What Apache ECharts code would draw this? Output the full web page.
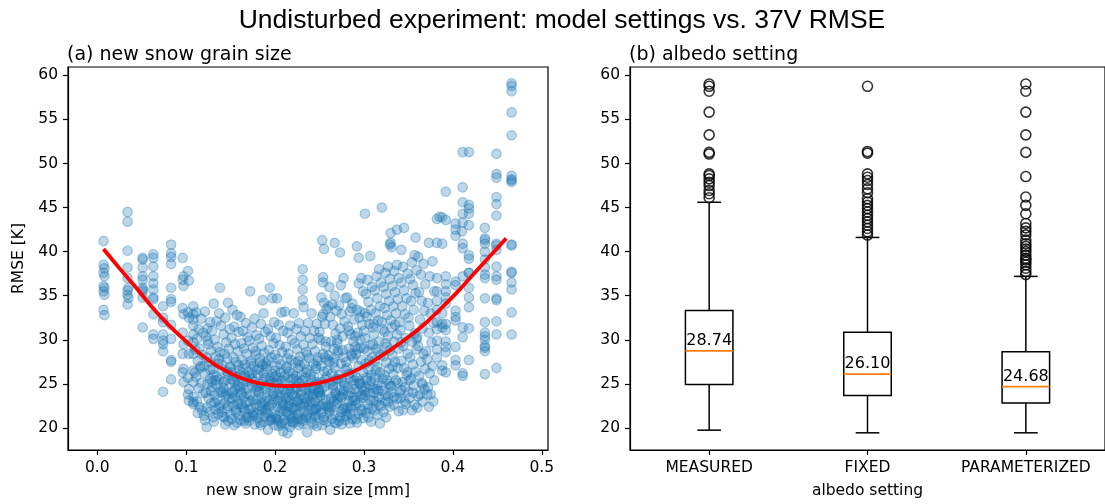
<!DOCTYPE html>
<html><head><meta charset="utf-8">
<script src="https://cdn.jsdelivr.net/npm/echarts@6/dist/echarts.min.js"></script>
<style>html,body{margin:0;padding:0;background:#fff}#c{width:1105px;height:504px}</style>
</head><body><div id="c"></div>
<script>
const xTicks=[0,0.1,0.2,0.3,0.4,0.5];
const yTicks=[20,25,30,35,40,45,50,55,60];
const categories=['MEASURED','FIXED','PARAMETERIZED'];
// [min whisker, Q1, median, Q3, max whisker]
const boxStats=[[19.74,24.92,28.74,33.32,45.6],[19.44,23.68,26.10,30.84,41.61],[19.44,22.81,24.68,28.63,37.19]];
const medianLabels=['28.74','26.10','24.68'];
const outMeasured=[59.02,58.76,58.2,55.83,53.25,51.26,51.07,48.82,48.63,48.26,47.88,47.5,46.94,46.57,46.12];
const outFixed=[58.76,51.37,51.18,48.82,48.44,48.07,47.62,47.13,46.68,46.0,45.63,45.25,44.88,44.5,44.12,43.75,43.38,43.0,42.63,42.25,41.88];
const outParam=[59.02,58.2,55.83,53.25,51.26,48.52,46.2,45.25,44.3,43.2,42.7,42.3,41.9,41.3,40.9,40.6,40.3,40.0,39.6,39.25,39.06,38.8,38.5,38.12,37.75,37.4];
const fitCurve=[[0.007,40.3],[0.025,38.1],[0.042,36.1],[0.06,33.9],[0.079,31.8],[0.1,29.8],[0.117,28.3],[0.135,27.0],[0.158,25.8],[0.18,25.1],[0.2,24.8],[0.215,24.75],[0.23,24.8],[0.25,25.1],[0.279,26.0],[0.3,27.0],[0.317,28.0],[0.339,29.5],[0.365,31.5],[0.385,33.4],[0.403,35.2],[0.42,37.1],[0.44,39.3],[0.46,41.5]];
const ptsLowX=[[0.007,41.2],[0.007,38.5],[0.008,38.1],[0.007,37.6],[0.008,37.2],[0.007,36.1],[0.008,35.9],[0.007,35.5],[0.008,35.1],[0.007,33.4],[0.008,32.8],
[0.034,44.5],[0.034,43.4],[0.034,40.1],[0.034,38.2],[0.034,37.0],[0.035,35.9],[0.034,35.6],[0.034,35.1],[0.035,34.75],[0.034,34.0],
[0.051,39.3],[0.051,39.1],[0.051,38.2],[0.051,37.2],[0.051,36.8],[0.051,35.9],[0.051,35.7],[0.051,35.5],[0.051,34.8],[0.051,31.4],
[0.063,39.7],[0.063,39.3],[0.063,38.3],[0.063,37.2],[0.063,36.4],[0.063,35.7],[0.063,34.8],[0.063,34.6],[0.063,32.9],[0.063,30.6],[0.063,30.1],
[0.074,33.8],[0.074,32.5],[0.074,32.0],[0.074,30.6],[0.074,29.9],[0.074,29.5],[0.074,28.7],[0.074,24.1],
[0.083,40.8],[0.083,39.8],[0.083,39.4],[0.083,38.6],[0.083,35.9],[0.083,34.6],[0.083,34.3],[0.083,31.7],[0.083,30.1],[0.083,27.7],[0.083,27.5],[0.083,25.5],
[0.096,39.3],[0.097,37.2],[0.096,36.8],[0.097,36.1],[0.096,33.6],[0.097,32.9],[0.096,30.8],[0.097,29.5],[0.096,28.4],[0.097,26.7],[0.096,26.3],[0.097,25.2],
[0.102,37.8],[0.103,36.7],[0.102,33.1],[0.103,32.5],[0.102,29.9],[0.103,28.4],[0.102,25.7],[0.103,24.4],[0.102,23.8],[0.103,23.1],
[0.108,33.8],[0.108,32.9],[0.108,32.3],[0.108,31.6],[0.108,30.6],[0.108,29.7],[0.108,28.4],[0.108,26.5],[0.108,25.2],[0.108,23.5],[0.108,22.9],[0.108,22.7]];
const ptsCoreA=[[.111,33.1],[.117,32.4],[.114,31.2],[.119,30.8],[.112,30.1],[.115,29.0],[.118,28.3],[.113,27.6],[.116,27.0],[.110,26.3],[.111,25.8],[.117,25.1],[.114,24.5],[.119,23.9],[.112,23.0],[.115,22.4],[.118,22.0],[.113,21.7],[.116,26.8],[.110,28.9],
[.121,33.2],[.127,32.0],[.124,31.3],[.129,31.0],[.122,30.4],[.125,29.5],[.128,28.8],[.123,28.0],[.126,27.5],[.120,27.0],[.121,26.2],[.127,25.6],[.124,25.0],[.129,24.6],[.122,24.0],[.125,23.4],[.128,22.8],[.123,22.3],[.126,21.8],[.120,21.4],[.121,20.9],[.123,20.1],[.127,26.6],[.124,29.9],[.129,25.3],
[.131,34.1],[.137,33.0],[.134,32.1],[.139,31.6],[.132,30.0],[.135,29.2],[.138,28.6],[.133,28.1],[.136,27.3],[.130,26.7],[.131,26.0],[.137,25.5],[.134,24.9],[.139,24.3],[.132,23.7],[.135,23.2],[.138,22.6],[.133,22.1],[.136,21.6],[.130,21.2],[.131,20.7],[.137,27.8],[.134,25.8],[.139,24.0],[.132,22.9],
[.138,35.9],[.147,34.2],[.144,32.5],[.149,31.2],[.142,30.6],[.145,29.7],[.148,29.0],[.143,28.4],[.146,27.9],[.140,27.2],[.141,26.6],[.147,26.1],[.144,25.4],[.149,25.0],[.142,24.5],[.145,23.9],[.148,23.3],[.143,22.8],[.146,22.2],[.140,21.8],[.141,21.3],[.147,20.8],[.144,20.4],[.149,26.9],[.142,25.2],[.145,23.6],
[.152,33.4],[.157,32.8],[.154,31.5],[.159,30.9],[.151,30.2],[.155,29.5],[.158,28.7],[.153,28.0],[.156,27.5],[.150,26.9],[.151,26.3],[.157,25.8],[.154,25.2],[.159,24.7],[.152,24.1],[.155,23.6],[.158,23.0],[.153,22.5],[.156,22.0],[.150,21.5],[.151,21.0],[.157,20.6],[.154,20.3],[.159,27.1],[.152,25.5],[.155,24.4],[.158,22.7],
[.161,32.6],[.167,31.9],[.164,31.0],[.169,30.3],[.162,29.6],[.165,29.0],[.168,28.4],[.163,27.7],[.166,27.2],[.160,26.5],[.161,26.0],[.167,25.6],[.164,25.0],[.169,24.5],[.162,24.0],[.165,23.5],[.168,22.9],[.163,22.4],[.166,21.9],[.160,21.4],[.161,20.9],[.167,20.5],[.164,26.7],[.169,25.3],[.162,23.8],[.165,22.2],[.168,21.2],
[.172,35.5],[.177,32.4],[.174,31.4],[.179,30.5],[.171,29.9],[.175,29.1],[.178,28.3],[.173,27.6],[.176,27.0],[.170,26.4],[.171,25.9],[.177,25.3],[.174,24.8],[.179,24.3],[.172,23.7],[.175,23.2],[.178,22.7],[.173,22.2],[.176,21.7],[.170,21.2],[.171,20.8],[.177,20.4],[.174,26.2],[.179,24.6],[.172,23.0],[.175,21.5],[.178,28.7],
[.186,34.5],[.187,33.0],[.184,31.8],[.189,30.9],[.182,30.1],[.185,29.3],[.188,28.5],[.183,27.9],[.186,27.2],[.180,26.6],[.181,26.0],[.187,25.5],[.184,25.0],[.189,24.5],[.182,24.0],[.185,23.5],[.188,23.0],[.183,22.5],[.186,22.0],[.180,21.6],[.181,21.1],[.187,20.7],[.184,20.3],[.189,25.7],[.182,24.2],[.185,22.8],[.188,21.3],[.183,27.4],
[.194,35.9],[.197,34.7],[.199,32.0],[.192,31.2],[.195,30.4],[.198,29.6],[.193,28.8],[.196,28.0],[.190,27.3],[.191,26.7],[.197,26.1],[.194,25.6],[.199,25.1],[.192,24.6],[.195,24.1],[.198,23.6],[.193,23.1],[.196,22.6],[.190,22.1],[.191,21.7],[.197,21.2],[.194,20.8],[.199,20.3],[.192,19.8],[.195,25.3],[.198,23.9],[.193,22.4],[.196,21.0],[.190,27.0]];
const ptsCoreB=[[.202,34.7],[.207,33.1],[.204,31.7],[.209,31.0],[.201,30.2],[.205,29.4],[.208,28.6],[.203,27.8],[.206,27.2],[.200,26.5],[.201,25.9],[.207,25.4],[.204,24.9],[.209,24.4],[.202,23.9],[.205,23.4],[.208,22.9],[.203,22.4],[.206,21.9],[.200,21.5],[.201,21.0],[.207,20.6],[.204,20.2],[.209,19.6],[.202,25.1],[.205,23.7],[.208,22.2],[.203,20.9],[.206,26.3],[.200,28.3],
[.211,33.2],[.217,31.6],[.214,30.8],[.219,30.0],[.212,29.2],[.215,28.4],[.218,27.7],[.213,27.0],[.216,26.4],[.210,25.8],[.211,25.3],[.217,24.8],[.214,24.3],[.219,23.8],[.212,23.3],[.215,22.8],[.218,22.3],[.213,21.8],[.216,21.4],[.210,20.9],[.211,20.5],[.217,20.1],[.214,19.4],[.219,25.5],[.212,24.0],[.215,22.5],[.218,21.1],[.213,26.8],[.216,23.1],[.210,22.0],
[.221,33.0],[.227,31.9],[.224,31.2],[.229,30.4],[.222,29.6],[.225,28.9],[.228,28.1],[.223,27.4],[.226,26.8],[.220,26.2],[.221,25.6],[.227,25.1],[.224,24.6],[.229,24.1],[.222,23.6],[.225,23.1],[.228,22.6],[.223,22.1],[.226,21.6],[.220,21.2],[.221,20.7],[.227,20.3],[.224,25.3],[.229,23.8],[.222,22.4],[.225,21.0],[.228,27.1],[.223,24.4],[.226,22.9],[.220,20.5],
[.231,38.0],[.231,36.8],[.231,35.7],[.231,34.5],[.232,33.7],[.237,31.9],[.234,31.0],[.239,30.2],[.232,29.4],[.235,28.6],[.238,27.9],[.233,27.2],[.236,26.6],[.230,26.0],[.231,25.4],[.237,24.9],[.234,24.4],[.239,23.9],[.232,23.4],[.235,22.9],[.238,22.4],[.233,21.9],[.236,21.4],[.230,21.0],[.231,20.5],[.236,19.5],[.234,25.7],[.239,24.2],[.232,22.7],[.235,21.2],[.238,23.6],
[.241,33.0],[.247,31.8],[.244,31.0],[.249,30.2],[.242,29.5],[.245,28.7],[.248,28.0],[.243,27.3],[.246,26.7],[.240,26.1],[.241,25.5],[.247,25.0],[.244,24.5],[.249,24.0],[.242,23.5],[.245,23.0],[.248,22.5],[.243,22.0],[.246,21.5],[.240,21.1],[.241,20.6],[.247,20.2],[.244,25.8],[.249,24.3],[.242,22.8],[.245,21.3],[.248,27.6],[.243,23.8],[.246,22.2],
[.253,41.3],[.255,40.3],[.254,37.1],[.254,36.5],[.252,34.8],[.255,34.2],[.258,33.5],[.253,32.6],[.256,31.8],[.250,30.9],[.251,30.0],[.257,29.2],[.254,28.4],[.259,27.7],[.252,27.0],[.255,26.4],[.258,25.8],[.253,25.2],[.256,24.7],[.250,24.2],[.251,23.7],[.257,23.2],[.254,22.7],[.259,22.2],[.252,21.7],[.255,21.2],[.258,20.7],[.253,20.3],[.256,25.5],[.250,24.0],[.251,22.5],[.257,29.8],[.254,32.9],
[.261,36.0],[.267,35.0],[.264,34.0],[.269,33.3],[.262,32.6],[.265,31.7],[.268,30.7],[.263,29.8],[.266,29.0],[.260,28.2],[.261,27.5],[.267,26.8],[.264,26.2],[.269,25.6],[.262,25.0],[.265,24.5],[.268,24.0],[.263,23.5],[.266,23.0],[.260,22.5],[.261,22.0],[.267,21.5],[.264,21.0],[.269,20.5],[.262,19.8],[.265,25.3],[.268,23.8],[.263,22.3],[.266,27.9],[.260,33.8],
[.267,41.0],[.273,39.9],[.277,37.0],[.274,36.2],[.279,34.7],[.272,33.9],[.275,32.9],[.278,32.1],[.273,31.3],[.276,30.4],[.270,29.6],[.271,28.8],[.277,28.0],[.274,27.3],[.279,26.6],[.272,26.0],[.275,25.4],[.278,24.8],[.273,24.3],[.276,23.8],[.270,23.3],[.271,22.8],[.277,22.3],[.274,21.8],[.279,21.3],[.272,20.8],[.275,20.4],[.278,25.1],[.273,23.6],[.276,22.1],[.270,30.0],[.271,28.5],
[.281,34.8],[.287,34.1],[.284,33.2],[.289,32.3],[.282,31.5],[.285,30.6],[.288,29.8],[.283,29.0],[.286,28.2],[.280,27.5],[.281,26.8],[.287,26.2],[.284,25.6],[.289,25.0],[.282,24.5],[.285,24.0],[.288,23.5],[.283,23.0],[.286,22.5],[.280,22.0],[.281,21.5],[.287,21.0],[.284,20.5],[.289,25.4],[.282,23.7],[.285,22.2],[.288,27.9],[.283,31.0],[.286,33.6],
[.292,40.6],[.294,39.3],[.297,37.0],[.294,36.4],[.299,35.5],[.292,33.4],[.295,32.5],[.298,31.7],[.293,30.8],[.296,30.0],[.290,29.2],[.291,28.4],[.297,27.7],[.294,27.0],[.299,26.3],[.292,25.7],[.295,25.1],[.298,24.6],[.293,24.1],[.296,23.6],[.290,23.1],[.291,22.6],[.297,22.1],[.294,21.6],[.299,21.1],[.292,20.6],[.295,25.3],[.298,23.8],[.293,28.9],[.296,33.2],[.290,30.4]];
const ptsCoreC=[[.301,44.3],[.307,39.5],[.304,36.8],[.309,36.0],[.302,35.2],[.305,34.3],[.308,33.4],[.303,32.6],[.306,31.8],[.300,31.0],[.301,30.2],[.307,29.4],[.304,28.7],[.309,28.0],[.302,27.3],[.305,26.6],[.308,26.0],[.303,25.4],[.306,24.8],[.300,24.2],[.301,23.7],[.307,23.2],[.304,22.7],[.309,22.2],[.302,21.7],[.305,21.2],[.308,20.7],[.303,25.7],[.306,24.0],[.300,29.0],[.301,33.0],
[.320,45.0],[.317,38.0],[.314,37.2],[.319,36.5],[.312,35.6],[.315,34.7],[.318,33.8],[.313,33.0],[.316,32.2],[.310,31.4],[.311,30.6],[.317,29.8],[.314,29.0],[.319,28.3],[.312,27.6],[.315,26.9],[.318,26.3],[.313,25.7],[.316,25.1],[.310,24.5],[.311,24.0],[.317,23.5],[.314,23.0],[.319,22.5],[.312,22.0],[.315,21.5],[.318,20.5],[.313,26.5],[.316,24.2],[.310,29.5],[.311,31.8],
[.330,42.1],[.330,41.0],[.329,40.8],[.327,38.3],[.324,37.6],[.329,36.9],[.322,36.0],[.325,35.2],[.328,34.4],[.323,33.6],[.326,32.8],[.320,32.0],[.321,31.2],[.327,30.4],[.324,29.6],[.329,28.8],[.322,28.1],[.325,27.4],[.328,26.7],[.323,26.0],[.326,25.4],[.320,24.8],[.321,24.2],[.327,23.6],[.324,23.0],[.329,22.4],[.322,21.8],[.325,21.2],[.328,25.0],[.323,30.9],
[.337,42.5],[.331,40.5],[.337,38.5],[.334,37.8],[.339,37.0],[.332,36.1],[.335,35.4],[.338,34.6],[.333,33.8],[.336,33.0],[.330,32.2],[.331,31.4],[.337,30.6],[.334,29.8],[.339,29.0],[.332,28.2],[.335,27.5],[.338,26.8],[.333,26.1],[.336,25.4],[.330,24.7],[.331,24.0],[.337,23.3],[.334,22.6],[.339,21.9],[.332,27.0],[.335,31.7],
[.345,42.7],[.342,40.2],[.344,38.3],[.349,37.5],[.342,36.5],[.345,35.6],[.348,34.7],[.343,33.8],[.346,32.9],[.340,32.0],[.341,31.1],[.347,30.2],[.344,29.3],[.349,28.4],[.342,27.6],[.345,26.8],[.348,26.0],[.343,25.2],[.346,24.6],[.340,24.0],[.341,23.4],[.347,22.7],[.344,22.0],[.349,26.3],[.342,29.7],
[.358,41.6],[.357,39.6],[.354,38.8],[.359,37.9],[.352,36.9],[.355,36.2],[.358,35.3],[.353,34.4],[.356,33.4],[.350,32.5],[.351,31.6],[.357,30.7],[.354,29.8],[.359,28.9],[.352,28.0],[.355,27.2],[.358,26.4],[.353,25.6],[.356,24.8],[.350,24.1],[.351,23.4],[.357,22.6],[.354,22.0],[.359,30.1],
[.361,39.4],[.367,38.6],[.364,37.4],[.369,36.3],[.362,35.4],[.365,34.4],[.368,33.3],[.363,32.3],[.366,31.3],[.360,30.3],[.361,29.3],[.367,28.4],[.364,27.5],[.369,26.7],[.362,25.9],[.365,25.1],[.368,24.4],[.363,23.8],[.366,23.0],[.360,22.3],
[.373,41.0],[.377,38.9],[.374,37.2],[.379,35.5],[.372,34.2],[.375,33.0],[.378,31.9],[.373,30.8],[.376,29.7],[.370,28.7],[.371,27.8],[.377,27.0],[.374,26.2],[.379,25.4],[.372,24.6],[.375,23.8],[.378,23.0],[.373,22.4]];
const ptsCoreExtra=[[.143,21.2],[.147,22.5],[.152,23.3],[.156,21.8],[.158,24.8],[.162,22.7],[.165,20.8],[.168,23.9],[.171,22.1],[.174,25.6],[.176,21.4],[.179,23.2],[.181,24.7],[.183,20.6],[.185,22.3],[.187,26.2],[.189,21.9],[.191,23.4],[.193,24.9],[.195,20.9],[.197,22.8],[.199,25.8],[.201,21.3],[.203,23.1],[.205,24.5],[.207,20.4],[.209,22.6],[.211,26.0],[.213,21.6],[.215,23.5],[.217,24.1],[.219,20.7],[.221,22.2],[.223,25.9],[.225,21.5],[.227,23.3],[.229,24.7],[.231,20.8],[.233,22.5],[.235,26.3],[.237,21.7],[.239,23.0],[.241,24.6],[.243,20.4],[.245,22.1],[.247,25.2],[.249,21.4],[.251,23.6],[.253,24.3],[.255,20.9],[.257,22.4],[.259,26.5],[.261,21.8],[.263,23.3],[.265,24.8],[.267,20.6],[.269,22.7],[.271,25.5],[.273,21.2],[.275,23.5],[.277,24.2],[.279,20.9],[.281,22.3],[.283,26.1],[.285,21.6],[.287,23.1],[.289,24.4],[.291,21.0],[.293,22.8],[.295,25.0],[.297,21.9],[.299,23.4],[.302,24.6],[.305,22.2],[.308,25.3],[.311,23.1],[.314,24.4],[.317,22.6],[.321,25.6],[.324,23.7],[.327,22.9],[.331,24.8],[.334,23.5],[.338,25.1],[.342,24.3],[.346,23.0],[.351,25.4],[.355,24.0],[.361,23.6],[.366,24.9],[.371,23.8],
[.128,24.2],[.133,25.4],[.137,22.3],[.141,24.1],[.146,26.4],[.151,23.9],[.155,25.9],[.161,24.6],[.166,26.0],[.173,27.3],[.182,26.7],[.192,27.6],[.202,27.0],[.214,27.9],[.226,27.6],[.236,28.3],[.246,27.0],[.256,28.0],[.266,27.4],[.276,28.8],[.286,28.4],[.296,29.1],[.306,27.6],[.316,28.6],[.326,29.2]];
const ptsHighX=[[.382,43.7],[.385,43.95],[.382,41.0],[.382,37.0],[.382,35.5],[.382,34.4],[.382,33.4],[.382,32.0],[.382,31.2],[.382,29.9],[.382,28.9],[.382,28.0],
[.388,43.9],[.388,40.9],[.388,33.0],[.388,31.8],[.388,31.4],[.388,27.1],[.388,26.5],
[.392,46.8],[.392,43.6],[.392,37.2],[.392,36.3],[.392,35.5],[.392,34.8],[.392,34.1],[.392,31.8],[.392,31.1],[.392,29.8],[.392,29.2],[.392,28.6],[.392,26.3],
[.403,43.2],[.403,42.5],[.403,41.8],[.403,36.6],[.403,36.2],[.403,33.3],[.403,32.6],[.403,32.2],[.403,29.2],[.403,27.7],[.403,27.1],
[.411,51.3],[.411,47.3],[.411,45.6],[.411,44.3],[.411,43.3],[.410,42.3],[.411,40.9],[.411,40.4],[.411,37.2],[.411,31.4],[.411,30.3],[.411,26.2],[.411,25.9],
[.418,51.3],[.418,45.3],[.418,44.9],[.418,44.3],[.418,43.0],[.418,39.6],[.418,39.2],[.418,37.6],[.418,37.6],[.418,35.9],[.418,34.8],[.418,33.7],[.418,31.3],[.418,27.7],
[.436,42.7],[.436,41.5],[.436,41.3],[.436,40.9],[.436,40.0],[.436,39.1],[.436,38.2],[.436,37.4],[.436,37.0],[.436,34.7],[.436,32.0],[.436,30.8],[.436,30.4],[.436,30.0],[.436,29.3],[.436,29.1],[.436,28.7],[.436,26.1],
[.449,51.1],[.449,48.8],[.449,48.4],[.449,46.2],[.449,45.4],[.449,44.1],[.449,40.9],[.449,40.7],[.449,40.2],[.449,38.3],[.449,37.2],[.449,36.8],[.449,34.7],[.449,34.5],[.449,32.1],[.449,30.6],[.449,26.8],
[.466,59.1],[.466,58.8],[.466,58.2],[.466,55.8],[.466,53.2],[.466,48.6],[.466,48.2],[.466,48.1],[.466,47.9],[.466,40.8],[.466,40.7],[.466,37.7],[.466,37.6],[.466,36.5],[.466,35.7],[.466,33.1],[.466,30.6]];

const FONT='"DejaVu Sans"';
const FS=15.5;
const txt={color:'#000',fontFamily:FONT,fontSize:FS};
const chart=echarts.init(document.getElementById('c'),null,{renderer:'canvas'});

function renderBox(params,api){
  const i=api.value(0);
  const mn=api.coord([i,api.value(1)]),q1=api.coord([i,api.value(2)]),md=api.coord([i,api.value(3)]),q3=api.coord([i,api.value(4)]),mx=api.coord([i,api.value(5)]);
  const band=api.size([1,0])[0];
  const bw=band*0.3,cw=bw*0.5,cx=mn[0];
  const ls={stroke:'#000',lineWidth:1.5,fill:null};
  return {type:'group',children:[
    {type:'line',shape:{x1:cx,y1:q3[1],x2:cx,y2:mx[1]},style:ls},
    {type:'line',shape:{x1:cx,y1:q1[1],x2:cx,y2:mn[1]},style:ls},
    {type:'line',shape:{x1:cx-cw/2,y1:mx[1],x2:cx+cw/2,y2:mx[1]},style:ls},
    {type:'line',shape:{x1:cx-cw/2,y1:mn[1],x2:cx+cw/2,y2:mn[1]},style:ls},
    {type:'rect',shape:{x:cx-bw/2,y:q3[1],width:bw,height:q1[1]-q3[1]},style:{stroke:'#000',fill:null,lineWidth:1.5}},
    {type:'line',shape:{x1:cx-bw/2,y1:md[1],x2:cx+bw/2,y2:md[1]},style:{stroke:'#ff7f0e',lineWidth:1.8}},
    {type:'text',x:cx,y:md[1]-2,style:{text:medianLabels[params.dataIndex],fill:'#000',font:'16px '+FONT,align:'center',verticalAlign:'bottom'}}
  ]};
}

const scatterStyle={color:'rgba(31,119,180,0.37)',borderColor:'rgba(31,119,180,0.45)',borderWidth:1.2};
function scat(d){return {type:'scatter',xAxisIndex:0,yAxisIndex:0,data:d,symbolSize:9.5,itemStyle:scatterStyle,z:2,silent:true};}
function outl(idx,arr){return {type:'scatter',xAxisIndex:1,yAxisIndex:1,data:arr.map(v=>[idx,v]),symbolSize:10,itemStyle:{color:'rgba(0,0,0,0)',borderColor:'#000',borderWidth:1.6},z:3,silent:true};}

const axisCommon={axisLine:{show:true,onZero:false,lineStyle:{color:'#000',width:1.2}},splitLine:{show:false},nameTextStyle:txt};

chart.setOption({
  animation:false,
  backgroundColor:'#fff',
  graphic:[
    {type:'text',x:562,y:21,style:{text:'Undisturbed experiment: model settings vs. 37V RMSE',font:'26.5px "Liberation Sans"',fill:'#000',align:'center',verticalAlign:'middle'}},
    {type:'text',x:67,y:55,style:{text:'(a) new snow grain size',font:'19px '+FONT,fill:'#000',align:'left',verticalAlign:'middle'}},
    {type:'text',x:629,y:55,style:{text:'(b) albedo setting',font:'19px '+FONT,fill:'#000',align:'left',verticalAlign:'middle'}}
  ],
  grid:[
    {left:68,top:67,width:480,height:386,show:true,borderColor:'#000',borderWidth:1.2,backgroundColor:'transparent'},
    {left:630,top:67,width:483,height:387,show:true,borderColor:'#000',borderWidth:1.2,backgroundColor:'transparent'}
  ],
  xAxis:[
    Object.assign({},axisCommon,{type:'value',gridIndex:0,min:-0.033,max:0.507,
      axisTick:{show:true,length:5,lineStyle:{color:'#000',width:1.2},customValues:xTicks},
      axisLabel:Object.assign({margin:10,customValues:xTicks,formatter:v=>v.toFixed(1)},txt),
      name:'new snow grain size [mm]',nameLocation:'middle',nameGap:33}),
    Object.assign({},axisCommon,{type:'category',gridIndex:1,data:categories,boundaryGap:true,
      axisTick:{show:true,length:5,alignWithLabel:true,interval:0,lineStyle:{color:'#000',width:1.2}},
      axisLabel:Object.assign({margin:10,interval:0,hideOverlap:false},txt),
      name:'albedo setting',nameLocation:'middle',nameGap:33})
  ],
  yAxis:[
    Object.assign({},axisCommon,{type:'value',gridIndex:0,min:17.49,max:60.95,
      axisTick:{show:true,length:5,lineStyle:{color:'#000',width:1.2},customValues:yTicks},
      axisLabel:Object.assign({margin:10,customValues:yTicks},txt),
      name:'RMSE [K]',nameLocation:'middle',nameGap:41}),
    Object.assign({},axisCommon,{type:'value',gridIndex:1,min:17.49,max:60.95,
      axisTick:{show:true,length:5,lineStyle:{color:'#000',width:1.2},customValues:yTicks},
      axisLabel:Object.assign({margin:10,customValues:yTicks},txt)})
  ],
  series:[
    scat(ptsLowX),scat(ptsCoreA),scat(ptsCoreB),scat(ptsCoreC),scat(ptsCoreExtra),scat(ptsHighX),
    {type:'line',xAxisIndex:0,yAxisIndex:0,data:fitCurve,smooth:0.4,showSymbol:false,symbol:'none',lineStyle:{color:'#ff0000',width:3.8},z:5,silent:true},
    {type:'custom',xAxisIndex:1,yAxisIndex:1,renderItem:renderBox,data:boxStats.map((s,i)=>[i].concat(s)),encode:{x:0,y:[1,2,3,4,5]},z:4,silent:true},
    outl(0,outMeasured),outl(1,outFixed),outl(2,outParam)
  ]
});
</script></body></html>
